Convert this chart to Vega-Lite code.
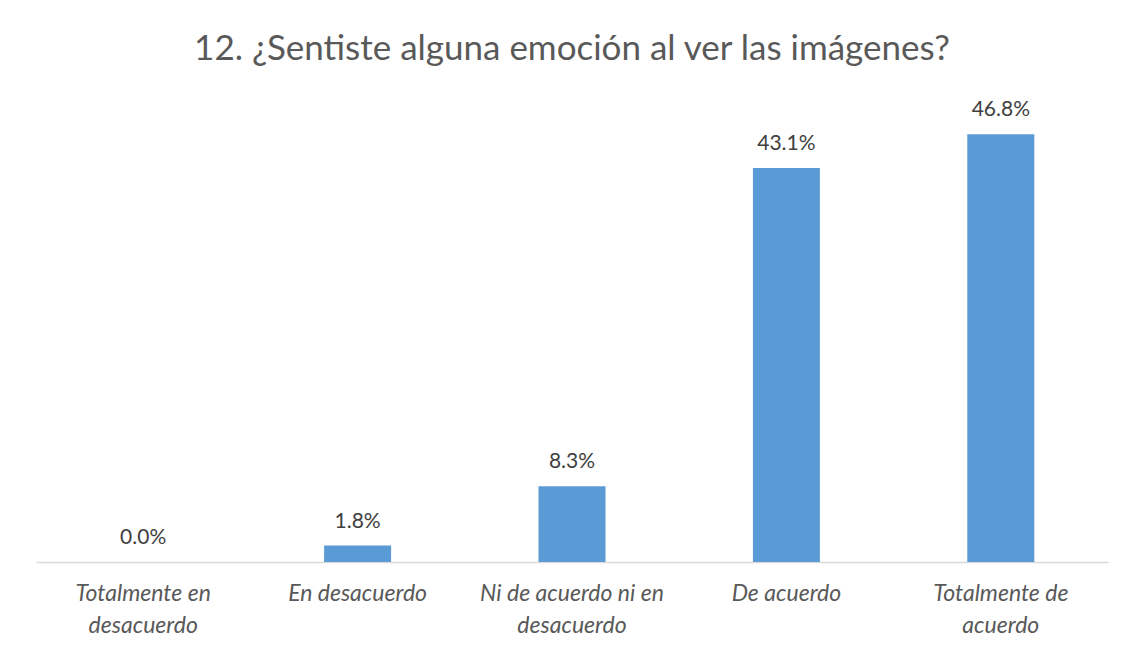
{
  "$schema": "https://vega.github.io/schema/vega-lite/v6.json",
  "width": 1072,
  "height": 457,
  "autosize": {"type": "none"},
  "padding": {"left": 36, "top": 105, "right": 24, "bottom": 89},
  "background": "white",
  "config": {"view": {"stroke": null}},
  "title": {
    "text": "12. ¿Sentiste alguna emoción al ver las imágenes?",
    "font": "Lato",
    "fontSize": 35,
    "fontWeight": "normal",
    "color": "#595959",
    "anchor": "middle",
    "baseline": "alphabetic",
    "offset": 4
  },
  "data": {
    "values": [
      {"categoria": "Totalmente en desacuerdo", "porcentaje": 0.0},
      {"categoria": "En desacuerdo", "porcentaje": 0.018},
      {"categoria": "Ni de acuerdo ni en desacuerdo", "porcentaje": 0.083},
      {"categoria": "De acuerdo", "porcentaje": 0.431},
      {"categoria": "Totalmente de acuerdo", "porcentaje": 0.468}
    ]
  },
  "encoding": {
    "x": {
      "field": "categoria",
      "type": "nominal",
      "sort": null,
      "scale": {"paddingInner": 0.6875, "paddingOuter": 0.34375},
      "axis": {
        "title": null,
        "labelAngle": 0,
        "ticks": false,
        "domainColor": "#D9D9D9",
        "domainWidth": 1.5,
        "labelFont": "Lato",
        "labelFontStyle": "italic",
        "labelFontSize": 23,
        "labelColor": "#595959",
        "labelPadding": 20,
        "labelLineHeight": 32,
        "labelLimit": 300,
        "labelExpr": "datum.label == 'Totalmente en desacuerdo' ? ['Totalmente en', 'desacuerdo'] : datum.label == 'Ni de acuerdo ni en desacuerdo' ? ['Ni de acuerdo ni en', 'desacuerdo'] : datum.label == 'Totalmente de acuerdo' ? ['Totalmente de', 'acuerdo'] : datum.label"
      }
    },
    "y": {
      "field": "porcentaje",
      "type": "quantitative",
      "scale": {"domain": [0, 0.5]},
      "axis": null
    }
  },
  "layer": [
    {"mark": {"type": "bar", "color": "#5B9BD5"}},
    {
      "mark": {
        "type": "text",
        "font": "Lato",
        "fontSize": 21,
        "color": "#404040",
        "baseline": "alphabetic",
        "dy": -18
      },
      "encoding": {
        "text": {"field": "porcentaje", "type": "quantitative", "format": ".1%"}
      }
    }
  ]
}
